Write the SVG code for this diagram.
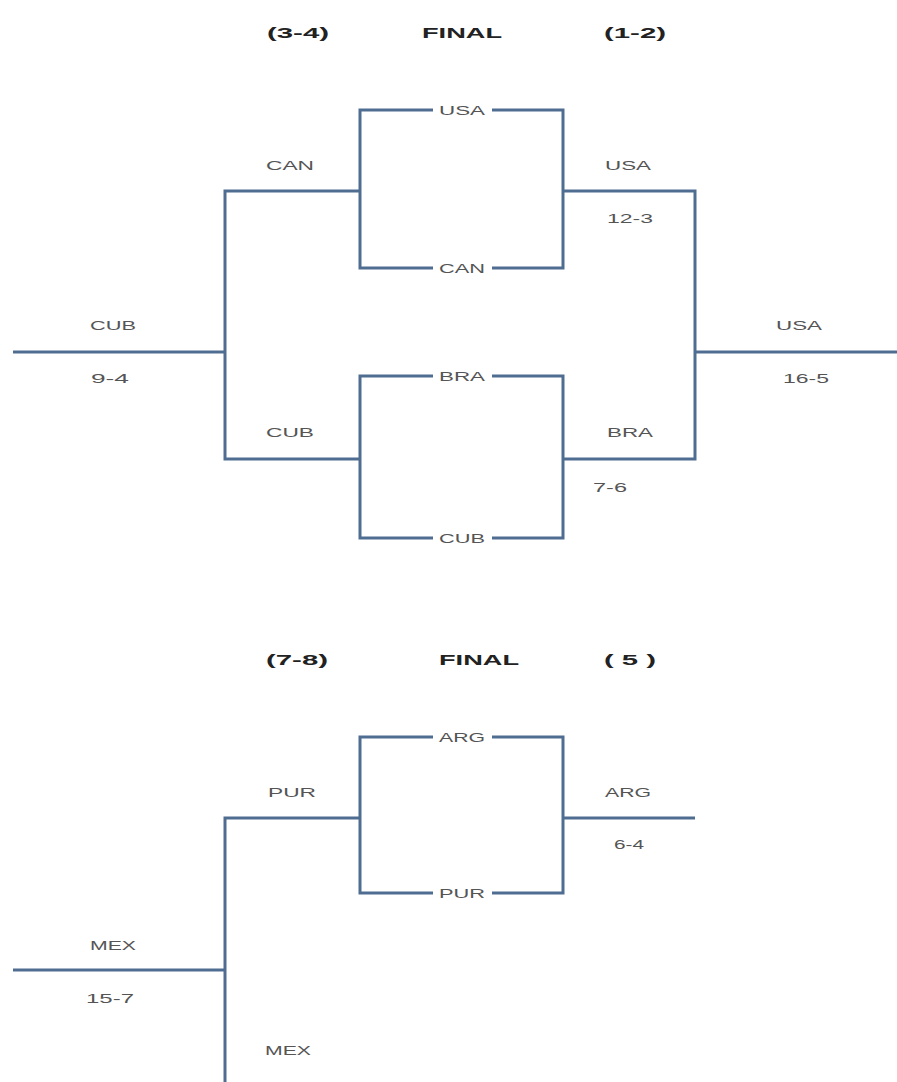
<svg xmlns="http://www.w3.org/2000/svg" width="897" height="1082" viewBox="0 0 897 1082">
<style>
.ln{fill:none;stroke:#4e6d90;stroke-width:3;stroke-linejoin:miter;stroke-linecap:butt}
.lb{font-family:"Liberation Sans",Arial,sans-serif;font-size:13px;fill:#555;text-anchor:middle}
.hd{font-family:"Liberation Sans",Arial,sans-serif;font-size:14px;font-weight:bold;fill:#222;text-anchor:middle}
</style>
<rect width="897" height="1082" fill="#fff"/>
<g id="connectors">
<!-- top bracket -->
<path class="ln" d="M13,352 H225"/>
<path class="ln" d="M360,191 H225 V459 H360"/>
<path class="ln" d="M433,110 H360 V268 H433 M492,110 H563 V268 H492"/>
<path class="ln" d="M433,376 H360 V538 H433 M492,376 H563 V538 H492"/>
<path class="ln" d="M563,191 H695 V459 H563"/>
<path class="ln" d="M695,352 H897"/>
<!-- bottom bracket -->
<path class="ln" d="M13,970 H225"/>
<path class="ln" d="M360,818 H225 V1082"/>
<path class="ln" d="M433,737 H360 V893 H433 M492,737 H563 V893 H492"/>
<path class="ln" d="M563,818 H695"/>
</g>
<g id="headers-top">
<text class="hd" x="298" y="38" textLength="62" lengthAdjust="spacingAndGlyphs">(3-4)</text>
<text class="hd" x="462" y="38" textLength="80" lengthAdjust="spacingAndGlyphs">FINAL</text>
<text class="hd" x="635" y="38" textLength="62" lengthAdjust="spacingAndGlyphs">(1-2)</text>
</g>
<g id="headers-bottom">
<text class="hd" x="297" y="665" textLength="62" lengthAdjust="spacingAndGlyphs">(7-8)</text>
<text class="hd" x="479" y="665" textLength="80" lengthAdjust="spacingAndGlyphs">FINAL</text>
<text class="hd" x="630" y="665" textLength="52" lengthAdjust="spacingAndGlyphs">( 5 )</text>
</g>
<g id="n-cub-left"><text class="lb" x="113" y="330" textLength="46" lengthAdjust="spacingAndGlyphs">CUB</text><text class="lb" x="110" y="383" textLength="38" lengthAdjust="spacingAndGlyphs">9-4</text></g>
<g id="n-can"><text class="lb" x="290" y="170" textLength="48" lengthAdjust="spacingAndGlyphs">CAN</text></g>
<g id="n-cub-mid"><text class="lb" x="290" y="437" textLength="48" lengthAdjust="spacingAndGlyphs">CUB</text></g>
<g id="n-usa-box"><text class="lb" x="462" y="115" textLength="46" lengthAdjust="spacingAndGlyphs">USA</text></g>
<g id="n-can-box"><text class="lb" x="462" y="273" textLength="46" lengthAdjust="spacingAndGlyphs">CAN</text></g>
<g id="n-bra-box"><text class="lb" x="462" y="381" textLength="46" lengthAdjust="spacingAndGlyphs">BRA</text></g>
<g id="n-cub-box"><text class="lb" x="462" y="543" textLength="46" lengthAdjust="spacingAndGlyphs">CUB</text></g>
<g id="n-usa-semi"><text class="lb" x="628" y="170" textLength="46" lengthAdjust="spacingAndGlyphs">USA</text><text class="lb" x="630" y="223" textLength="46" lengthAdjust="spacingAndGlyphs">12-3</text></g>
<g id="n-bra-semi"><text class="lb" x="630" y="437" textLength="46" lengthAdjust="spacingAndGlyphs">BRA</text><text class="lb" x="610" y="492" textLength="34" lengthAdjust="spacingAndGlyphs">7-6</text></g>
<g id="n-usa-final"><text class="lb" x="799" y="330" textLength="46" lengthAdjust="spacingAndGlyphs">USA</text><text class="lb" x="806" y="383" textLength="46" lengthAdjust="spacingAndGlyphs">16-5</text></g>
<g id="n-mex-left"><text class="lb" x="113" y="950" textLength="46" lengthAdjust="spacingAndGlyphs">MEX</text><text class="lb" x="110" y="1003" textLength="48" lengthAdjust="spacingAndGlyphs">15-7</text></g>
<g id="n-pur"><text class="lb" x="292" y="797" textLength="48" lengthAdjust="spacingAndGlyphs">PUR</text></g>
<g id="n-mex-low"><text class="lb" x="288" y="1055" textLength="46" lengthAdjust="spacingAndGlyphs">MEX</text></g>
<g id="n-arg-box"><text class="lb" x="462" y="742" textLength="46" lengthAdjust="spacingAndGlyphs">ARG</text></g>
<g id="n-pur-box"><text class="lb" x="462" y="898" textLength="46" lengthAdjust="spacingAndGlyphs">PUR</text></g>
<g id="n-arg-out"><text class="lb" x="628" y="797" textLength="46" lengthAdjust="spacingAndGlyphs">ARG</text><text class="lb" x="629" y="849" textLength="30" lengthAdjust="spacingAndGlyphs">6-4</text></g>
</svg>
